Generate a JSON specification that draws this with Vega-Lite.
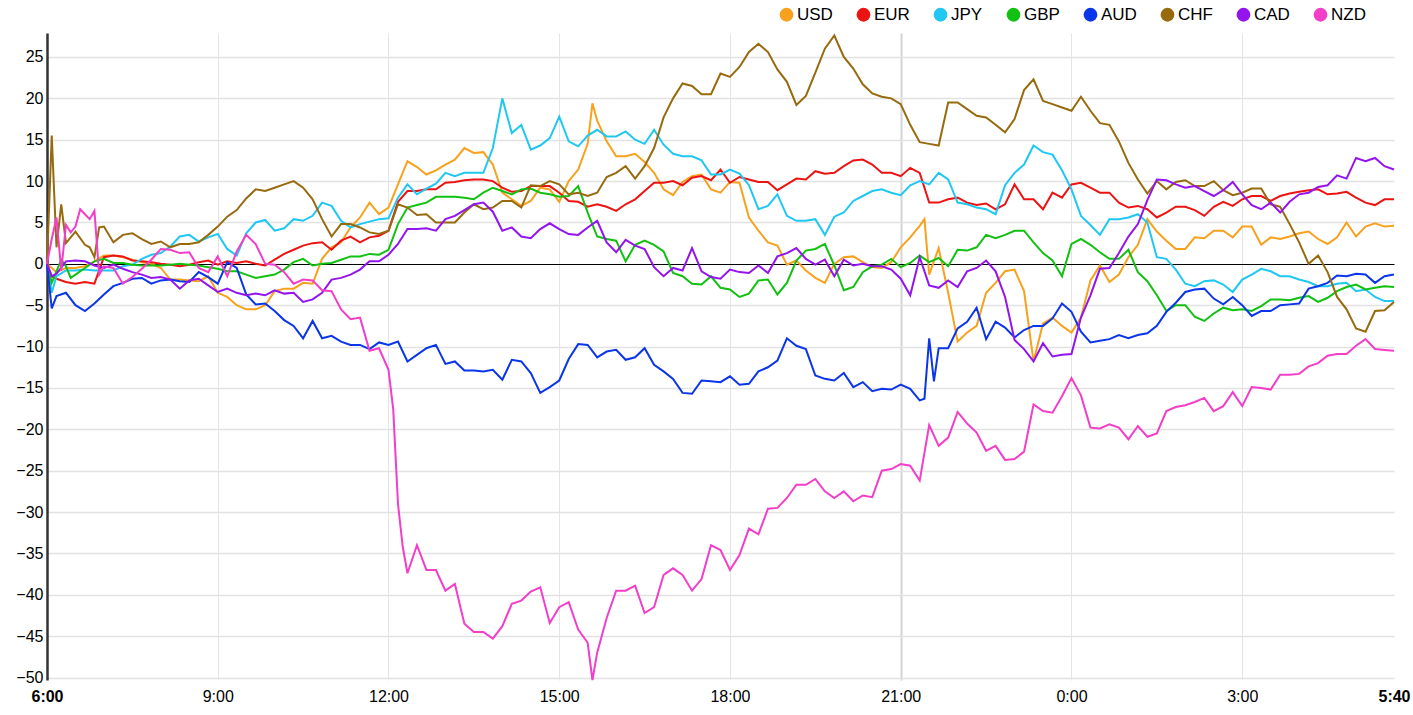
{
  "$schema": "https://vega.github.io/schema/vega-lite/v6.json",
  "width": 1347,
  "height": 647,
  "autosize": {"type": "none"},
  "padding": {"left": 47, "top": 33, "right": 19, "bottom": 35},
  "background": "white",
  "config": {"view": {"stroke": null}, "font": "Liberation Sans"},
  "data": {"values": [
    {"t":"2024-01-01T06:00","USD":0,"EUR":0,"JPY":0,"GBP":0,"AUD":0,"CHF":0,"CAD":0,"NZD":0},
    {"t":"2024-01-01T06:05","USD":-0.5,"EUR":-1.5,"JPY":-3.5,"GBP":-2.3,"AUD":-5.4,"CHF":15.5,"CAD":-1.5,"NZD":3.0},
    {"t":"2024-01-01T06:10","USD":-1.0,"EUR":-1.8,"JPY":-1.5,"GBP":-0.9,"AUD":-3.9,"CHF":2.0,"CAD":-1.2,"NZD":5.6},
    {"t":"2024-01-01T06:15","GBP":0.5,"CHF":7.2,"NZD":-0.8},
    {"t":"2024-01-01T06:20","USD":-0.5,"EUR":-2.2,"JPY":-0.8,"GBP":-0.3,"AUD":-3.5,"CHF":2.5,"CAD":0.3,"NZD":4.7},
    {"t":"2024-01-01T06:25","GBP":-1.7,"NZD":3.8},
    {"t":"2024-01-01T06:30","USD":-0.5,"EUR":-2.4,"JPY":-0.8,"GBP":-1.3,"AUD":-5.0,"CHF":3.9,"CAD":0.4,"NZD":4.5},
    {"t":"2024-01-01T06:35","NZD":6.6},
    {"t":"2024-01-01T06:40","USD":-0.3,"EUR":-2.2,"JPY":-0.7,"GBP":-0.5,"AUD":-5.7,"CHF":2.3,"CAD":0.3,"NZD":6.0},
    {"t":"2024-01-01T06:45","CHF":2.0,"NZD":5.4},
    {"t":"2024-01-01T06:50","USD":0.3,"EUR":-2.4,"JPY":-0.8,"GBP":0.3,"AUD":-4.8,"CHF":0.8,"CAD":-0.2,"NZD":6.4},
    {"t":"2024-01-01T06:55","CHF":4.4,"NZD":-1.3},
    {"t":"2024-01-01T07:00","USD":1.0,"EUR":0.8,"JPY":-0.8,"GBP":0.6,"AUD":-3.7,"CHF":4.5,"CAD":-0.5,"NZD":-0.3},
    {"t":"2024-01-01T07:10","USD":1.0,"EUR":1.0,"JPY":-0.8,"GBP":0.1,"AUD":-2.7,"CHF":2.6,"CAD":-0.1,"NZD":-0.5},
    {"t":"2024-01-01T07:20","USD":0.8,"EUR":0.9,"JPY":-0.3,"GBP":0.1,"AUD":-2.3,"CHF":3.5,"CAD":-0.6,"NZD":-2.4},
    {"t":"2024-01-01T07:30","USD":0.5,"EUR":0.4,"JPY":-0.1,"GBP":-0.1,"AUD":-1.8,"CHF":3.7,"CAD":-1.0,"NZD":-1.6},
    {"t":"2024-01-01T07:40","USD":0.2,"EUR":0.3,"JPY":0.6,"GBP":-0.2,"AUD":-1.7,"CHF":3.0,"CAD":-1.3,"NZD":-0.6},
    {"t":"2024-01-01T07:50","USD":0.0,"EUR":0.2,"JPY":1.1,"GBP":-0.2,"AUD":-2.4,"CHF":2.4,"CAD":-1.7,"NZD":0.5},
    {"t":"2024-01-01T08:00","USD":-0.5,"EUR":0.0,"JPY":1.3,"GBP":-0.2,"AUD":-2.0,"CHF":2.7,"CAD":-1.6,"NZD":1.8},
    {"t":"2024-01-01T08:10","USD":-1.9,"EUR":-0.1,"JPY":2.1,"GBP":-0.1,"AUD":-1.9,"CHF":2.0,"CAD":-1.9,"NZD":1.7},
    {"t":"2024-01-01T08:20","USD":-1.9,"EUR":-0.3,"JPY":3.3,"GBP":0.0,"AUD":-2.1,"CHF":2.4,"CAD":-3.0,"NZD":1.3},
    {"t":"2024-01-01T08:30","USD":-2.0,"EUR":-0.1,"JPY":3.5,"GBP":-0.1,"AUD":-2.2,"CHF":2.4,"CAD":-2.0,"NZD":1.4},
    {"t":"2024-01-01T08:40","USD":-2.1,"EUR":0.2,"JPY":2.7,"GBP":-0.2,"AUD":-1.0,"CHF":2.6,"CAD":-1.8,"NZD":-0.5},
    {"t":"2024-01-01T08:50","USD":-1.5,"EUR":0.4,"JPY":3.2,"GBP":-0.4,"AUD":-1.6,"CHF":3.5,"CAD":-2.6,"NZD":-1.0},
    {"t":"2024-01-01T09:00","USD":-3.5,"EUR":-0.1,"JPY":3.6,"GBP":-0.6,"AUD":-2.4,"CHF":4.5,"CAD":-3.4,"NZD":0.9},
    {"t":"2024-01-01T09:10","USD":-4.0,"EUR":0.3,"JPY":1.8,"GBP":-0.9,"AUD":0.2,"CHF":5.7,"CAD":-3.0,"NZD":-1.5},
    {"t":"2024-01-01T09:20","USD":-5.0,"EUR":0.1,"JPY":1.0,"GBP":-0.9,"AUD":-0.5,"CHF":6.5,"CAD":-3.5,"NZD":1.5},
    {"t":"2024-01-01T09:30","USD":-5.5,"EUR":0.3,"JPY":3.7,"GBP":-1.3,"AUD":-3.7,"CHF":7.9,"CAD":-3.8,"NZD":3.5},
    {"t":"2024-01-01T09:40","USD":-5.5,"EUR":0.0,"JPY":5.0,"GBP":-1.7,"AUD":-4.9,"CHF":9.0,"CAD":-3.6,"NZD":2.4},
    {"t":"2024-01-01T09:50","USD":-5.0,"EUR":-0.2,"JPY":5.3,"GBP":-1.5,"AUD":-4.8,"CHF":8.8,"CAD":-3.8,"NZD":0.0},
    {"t":"2024-01-01T10:00","USD":-3.3,"EUR":0.5,"JPY":4.0,"GBP":-1.3,"AUD":-5.7,"CHF":9.2,"CAD":-3.2,"NZD":-0.1},
    {"t":"2024-01-01T10:10","USD":-3.0,"EUR":1.2,"JPY":4.3,"GBP":-0.7,"AUD":-6.8,"CHF":9.6,"CAD":-3.6,"NZD":-1.0},
    {"t":"2024-01-01T10:20","USD":-3.0,"EUR":1.7,"JPY":5.4,"GBP":0.2,"AUD":-7.5,"CHF":10.0,"CAD":-3.5,"NZD":-2.4},
    {"t":"2024-01-01T10:30","USD":-2.3,"EUR":2.2,"JPY":5.2,"GBP":0.6,"AUD":-9.0,"CHF":9.2,"CAD":-4.6,"NZD":-1.9},
    {"t":"2024-01-01T10:40","USD":-2.4,"EUR":2.5,"JPY":5.8,"GBP":-0.2,"AUD":-6.9,"CHF":7.8,"CAD":-4.3,"NZD":-2.0},
    {"t":"2024-01-01T10:50","USD":0.6,"EUR":2.6,"JPY":7.4,"GBP":0.0,"AUD":-9.0,"CHF":5.4,"CAD":-3.5,"NZD":-3.2},
    {"t":"2024-01-01T11:00","USD":2.0,"EUR":1.7,"JPY":7.0,"GBP":0.1,"AUD":-8.7,"CHF":3.3,"CAD":-1.9,"NZD":-3.3},
    {"t":"2024-01-01T11:10","USD":2.6,"EUR":2.8,"JPY":5.2,"GBP":0.5,"AUD":-9.4,"CHF":4.8,"CAD":-1.7,"NZD":-5.5},
    {"t":"2024-01-01T11:20","USD":4.4,"EUR":3.3,"JPY":4.4,"GBP":0.9,"AUD":-9.8,"CHF":4.8,"CAD":-1.3,"NZD":-6.7},
    {"t":"2024-01-01T11:30","USD":5.6,"EUR":2.6,"JPY":4.8,"GBP":0.9,"AUD":-9.8,"CHF":4.4,"CAD":-0.7,"NZD":-6.5},
    {"t":"2024-01-01T11:40","USD":7.4,"EUR":3.2,"JPY":5.1,"GBP":1.2,"AUD":-10.3,"CHF":3.8,"CAD":0.3,"NZD":-10.5},
    {"t":"2024-01-01T11:50","USD":6.0,"EUR":3.4,"JPY":5.4,"GBP":1.1,"AUD":-9.5,"CHF":3.6,"CAD":0.3,"NZD":-10.2},
    {"t":"2024-01-01T12:00","USD":6.8,"EUR":4.0,"JPY":5.5,"GBP":1.7,"AUD":-9.8,"CHF":4.0,"CAD":1.1,"NZD":-12.8},
    {"t":"2024-01-01T12:05","NZD":-17.6},
    {"t":"2024-01-01T12:10","USD":9.6,"EUR":7.5,"JPY":8.0,"GBP":4.8,"AUD":-9.4,"CHF":7.2,"CAD":2.4,"NZD":-29.0},
    {"t":"2024-01-01T12:15","NZD":-34.2},
    {"t":"2024-01-01T12:20","USD":12.4,"EUR":8.8,"JPY":9.6,"GBP":6.8,"AUD":-11.8,"CHF":6.8,"CAD":4.2,"NZD":-37.4},
    {"t":"2024-01-01T12:30","USD":11.7,"EUR":8.8,"JPY":8.4,"GBP":7.1,"AUD":-11.0,"CHF":5.9,"CAD":4.2,"NZD":-34.0},
    {"t":"2024-01-01T12:40","USD":10.8,"EUR":9.0,"JPY":9.1,"GBP":7.4,"AUD":-10.2,"CHF":6.0,"CAD":4.3,"NZD":-37.0},
    {"t":"2024-01-01T12:50","USD":11.3,"EUR":9.0,"JPY":9.7,"GBP":8.1,"AUD":-9.8,"CHF":5.0,"CAD":4.0,"NZD":-37.0},
    {"t":"2024-01-01T13:00","USD":12.0,"EUR":9.8,"JPY":11.0,"GBP":8.1,"AUD":-12.1,"CHF":5.0,"CAD":5.4,"NZD":-39.5},
    {"t":"2024-01-01T13:10","USD":12.6,"EUR":9.9,"JPY":10.6,"GBP":8.1,"AUD":-11.8,"CHF":5.0,"CAD":5.8,"NZD":-38.7},
    {"t":"2024-01-01T13:20","USD":14.0,"EUR":10.1,"JPY":11.0,"GBP":8.0,"AUD":-12.9,"CHF":6.2,"CAD":6.5,"NZD":-43.5},
    {"t":"2024-01-01T13:30","USD":13.4,"EUR":10.2,"JPY":11.0,"GBP":7.8,"AUD":-12.9,"CHF":7.2,"CAD":7.2,"NZD":-44.5},
    {"t":"2024-01-01T13:40","USD":13.5,"EUR":10.2,"JPY":11.0,"GBP":8.6,"AUD":-13.0,"CHF":6.6,"CAD":7.4,"NZD":-44.5},
    {"t":"2024-01-01T13:50","USD":12.0,"EUR":10.0,"JPY":14.0,"GBP":9.2,"AUD":-12.8,"CHF":6.8,"CAD":6.3,"NZD":-45.3},
    {"t":"2024-01-01T14:00","USD":8.6,"EUR":9.2,"JPY":20.0,"GBP":8.8,"AUD":-14.0,"CHF":7.6,"CAD":4.0,"NZD":-43.8},
    {"t":"2024-01-01T14:10","USD":7.8,"EUR":8.7,"JPY":15.8,"GBP":8.4,"AUD":-11.6,"CHF":7.6,"CAD":4.4,"NZD":-41.1},
    {"t":"2024-01-01T14:20","USD":7.0,"EUR":8.8,"JPY":16.8,"GBP":9.0,"AUD":-11.8,"CHF":6.8,"CAD":3.3,"NZD":-40.7},
    {"t":"2024-01-01T14:30","USD":7.6,"EUR":9.4,"JPY":13.8,"GBP":9.1,"AUD":-13.2,"CHF":9.5,"CAD":3.1,"NZD":-39.6},
    {"t":"2024-01-01T14:40","USD":9.2,"EUR":9.4,"JPY":14.3,"GBP":8.6,"AUD":-15.6,"CHF":9.4,"CAD":4.2,"NZD":-39.1},
    {"t":"2024-01-01T14:50","USD":9.0,"EUR":9.4,"JPY":15.2,"GBP":8.4,"AUD":-14.9,"CHF":10.0,"CAD":4.9,"NZD":-43.4},
    {"t":"2024-01-01T15:00","USD":7.5,"EUR":8.6,"JPY":17.8,"GBP":8.1,"AUD":-14.1,"CHF":9.6,"CAD":4.2,"NZD":-41.5},
    {"t":"2024-01-01T15:10","USD":10.0,"EUR":7.6,"JPY":14.8,"GBP":8.2,"AUD":-11.5,"CHF":8.4,"CAD":3.6,"NZD":-40.9},
    {"t":"2024-01-01T15:20","USD":11.4,"EUR":7.5,"JPY":14.2,"GBP":9.4,"AUD":-9.7,"CHF":8.6,"CAD":3.5,"NZD":-44.2},
    {"t":"2024-01-01T15:30","USD":14.5,"EUR":6.9,"JPY":15.5,"GBP":6.2,"AUD":-9.8,"CHF":8.2,"CAD":4.4,"NZD":-45.8},
    {"t":"2024-01-01T15:35","USD":19.4,"NZD":-50.3},
    {"t":"2024-01-01T15:40","USD":17.3,"EUR":7.2,"JPY":16.2,"GBP":3.3,"AUD":-11.3,"CHF":8.6,"CAD":5.2,"NZD":-47.0},
    {"t":"2024-01-01T15:50","USD":14.8,"EUR":6.9,"JPY":15.4,"GBP":3.0,"AUD":-10.6,"CHF":10.5,"CAD":2.6,"NZD":-42.8},
    {"t":"2024-01-01T16:00","USD":13.0,"EUR":6.4,"JPY":15.4,"GBP":2.8,"AUD":-10.4,"CHF":11.0,"CAD":1.4,"NZD":-39.5},
    {"t":"2024-01-01T16:10","USD":13.0,"EUR":7.2,"JPY":16.0,"GBP":0.3,"AUD":-11.6,"CHF":11.8,"CAD":2.9,"NZD":-39.5},
    {"t":"2024-01-01T16:20","USD":13.3,"EUR":7.8,"JPY":15.0,"GBP":2.3,"AUD":-11.3,"CHF":10.3,"CAD":2.2,"NZD":-38.9},
    {"t":"2024-01-01T16:30","USD":12.3,"EUR":8.8,"JPY":14.5,"GBP":2.8,"AUD":-10.2,"CHF":11.8,"CAD":1.8,"NZD":-42.2},
    {"t":"2024-01-01T16:40","USD":11.0,"EUR":9.8,"JPY":16.2,"GBP":2.3,"AUD":-12.2,"CHF":14.0,"CAD":-0.4,"NZD":-41.5},
    {"t":"2024-01-01T16:50","USD":9.0,"EUR":9.8,"JPY":14.4,"GBP":1.5,"AUD":-13.0,"CHF":17.7,"CAD":-1.5,"NZD":-37.6},
    {"t":"2024-01-01T17:00","USD":8.3,"EUR":10.0,"JPY":13.3,"GBP":-1.1,"AUD":-13.9,"CHF":20.0,"CAD":-0.5,"NZD":-36.8},
    {"t":"2024-01-01T17:10","USD":9.9,"EUR":9.5,"JPY":13.0,"GBP":-1.5,"AUD":-15.6,"CHF":21.8,"CAD":-0.8,"NZD":-37.6},
    {"t":"2024-01-01T17:20","USD":10.6,"EUR":10.4,"JPY":13.0,"GBP":-2.4,"AUD":-15.7,"CHF":21.5,"CAD":1.9,"NZD":-39.5},
    {"t":"2024-01-01T17:30","USD":10.8,"EUR":10.6,"JPY":12.5,"GBP":-2.5,"AUD":-14.1,"CHF":20.5,"CAD":-0.9,"NZD":-38.1},
    {"t":"2024-01-01T17:40","USD":9.0,"EUR":10.1,"JPY":10.8,"GBP":-1.5,"AUD":-14.2,"CHF":20.5,"CAD":-1.6,"NZD":-34.0},
    {"t":"2024-01-01T17:50","USD":8.6,"EUR":11.4,"JPY":10.8,"GBP":-2.9,"AUD":-14.3,"CHF":23.0,"CAD":-1.8,"NZD":-34.6},
    {"t":"2024-01-01T18:00","USD":9.9,"EUR":9.8,"JPY":11.4,"GBP":-3.1,"AUD":-13.6,"CHF":22.6,"CAD":-0.7,"NZD":-37.0},
    {"t":"2024-01-01T18:10","USD":9.8,"EUR":10.5,"JPY":10.9,"GBP":-4.0,"AUD":-14.6,"CHF":23.8,"CAD":-1.0,"NZD":-35.2},
    {"t":"2024-01-01T18:20","USD":5.6,"EUR":10.2,"JPY":9.5,"GBP":-3.6,"AUD":-14.5,"CHF":25.6,"CAD":-1.1,"NZD":-32.0},
    {"t":"2024-01-01T18:30","USD":4.0,"EUR":9.9,"JPY":6.6,"GBP":-2.0,"AUD":-13.0,"CHF":26.6,"CAD":-0.2,"NZD":-32.7},
    {"t":"2024-01-01T18:40","USD":2.6,"EUR":9.9,"JPY":7.0,"GBP":-1.9,"AUD":-12.5,"CHF":25.6,"CAD":-1.1,"NZD":-29.6},
    {"t":"2024-01-01T18:50","USD":2.2,"EUR":8.9,"JPY":8.4,"GBP":-3.7,"AUD":-11.7,"CHF":23.5,"CAD":0.9,"NZD":-29.5},
    {"t":"2024-01-01T19:00","USD":-0.1,"EUR":9.6,"JPY":5.8,"GBP":-2.3,"AUD":-9.0,"CHF":22.0,"CAD":1.3,"NZD":-28.3},
    {"t":"2024-01-01T19:10","USD":0.4,"EUR":10.3,"JPY":5.2,"GBP":0.4,"AUD":-9.9,"CHF":19.2,"CAD":1.9,"NZD":-26.7},
    {"t":"2024-01-01T19:20","USD":-0.8,"EUR":10.2,"JPY":5.2,"GBP":1.6,"AUD":-10.3,"CHF":20.3,"CAD":0.6,"NZD":-26.7},
    {"t":"2024-01-01T19:30","USD":-1.7,"EUR":11.2,"JPY":5.4,"GBP":1.8,"AUD":-13.5,"CHF":23.1,"CAD":-0.1,"NZD":-26.0},
    {"t":"2024-01-01T19:40","USD":-2.3,"EUR":10.9,"JPY":3.5,"GBP":2.4,"AUD":-13.9,"CHF":26.0,"CAD":0.5,"NZD":-27.5},
    {"t":"2024-01-01T19:50","USD":0.0,"EUR":11.0,"JPY":5.7,"GBP":-0.2,"AUD":-14.1,"CHF":27.6,"CAD":-1.5,"NZD":-28.3},
    {"t":"2024-01-01T20:00","USD":0.8,"EUR":11.8,"JPY":6.2,"GBP":-3.2,"AUD":-13.2,"CHF":25.0,"CAD":0.5,"NZD":-27.5},
    {"t":"2024-01-01T20:10","USD":0.9,"EUR":12.5,"JPY":7.6,"GBP":-2.8,"AUD":-14.9,"CHF":23.6,"CAD":-0.2,"NZD":-28.7},
    {"t":"2024-01-01T20:20","USD":0.2,"EUR":12.6,"JPY":8.2,"GBP":-1.0,"AUD":-14.3,"CHF":21.7,"CAD":0.0,"NZD":-28.0},
    {"t":"2024-01-01T20:30","USD":-0.4,"EUR":12.0,"JPY":8.8,"GBP":-0.3,"AUD":-15.4,"CHF":20.6,"CAD":-0.3,"NZD":-28.2},
    {"t":"2024-01-01T20:40","USD":-0.5,"EUR":11.0,"JPY":9.0,"GBP":-0.1,"AUD":-15.1,"CHF":20.2,"CAD":-0.3,"NZD":-25.0},
    {"t":"2024-01-01T20:50","USD":0.2,"EUR":11.0,"JPY":8.6,"GBP":0.6,"AUD":-15.2,"CHF":20.0,"CAD":-0.7,"NZD":-24.8},
    {"t":"2024-01-01T21:00","USD":2.0,"EUR":10.6,"JPY":8.3,"GBP":-0.4,"AUD":-14.6,"CHF":19.3,"CAD":-1.8,"NZD":-24.2},
    {"t":"2024-01-01T21:10","USD":3.2,"EUR":11.6,"JPY":9.5,"GBP":0.1,"AUD":-15.1,"CHF":16.8,"CAD":-3.8,"NZD":-24.4},
    {"t":"2024-01-01T21:20","USD":4.6,"EUR":11.0,"JPY":10.0,"GBP":1.0,"AUD":-16.5,"CHF":14.7,"CAD":0.8,"NZD":-26.2},
    {"t":"2024-01-01T21:25","USD":5.4,"AUD":-16.3},
    {"t":"2024-01-01T21:30","USD":-1.3,"EUR":7.4,"JPY":9.6,"GBP":0.2,"AUD":-9.0,"CHF":14.5,"CAD":-2.6,"NZD":-19.5},
    {"t":"2024-01-01T21:35","AUD":-14.2},
    {"t":"2024-01-01T21:40","USD":1.9,"EUR":7.4,"JPY":11.0,"GBP":0.7,"AUD":-10.2,"CHF":14.3,"CAD":-2.9,"NZD":-22.0},
    {"t":"2024-01-01T21:50","USD":-3.5,"EUR":7.8,"JPY":10.2,"GBP":-0.3,"AUD":-10.2,"CHF":19.5,"CAD":-2.0,"NZD":-21.0},
    {"t":"2024-01-01T22:00","USD":-9.4,"EUR":8.0,"JPY":7.4,"GBP":1.7,"AUD":-7.8,"CHF":19.5,"CAD":-2.8,"NZD":-17.9},
    {"t":"2024-01-01T22:10","USD":-8.3,"EUR":7.4,"JPY":7.2,"GBP":1.6,"AUD":-7.0,"CHF":18.7,"CAD":-0.9,"NZD":-19.3},
    {"t":"2024-01-01T22:20","USD":-7.5,"EUR":7.1,"JPY":6.8,"GBP":2.0,"AUD":-5.3,"CHF":17.9,"CAD":-0.5,"NZD":-20.4},
    {"t":"2024-01-01T22:30","USD":-3.5,"EUR":7.3,"JPY":6.6,"GBP":3.5,"AUD":-9.1,"CHF":17.7,"CAD":0.4,"NZD":-22.6},
    {"t":"2024-01-01T22:40","USD":-2.3,"EUR":6.6,"JPY":6.0,"GBP":3.1,"AUD":-7.0,"CHF":16.8,"CAD":-0.9,"NZD":-22.0},
    {"t":"2024-01-01T22:50","USD":-0.9,"EUR":7.2,"JPY":9.5,"GBP":3.5,"AUD":-7.7,"CHF":15.9,"CAD":-4.0,"NZD":-23.7},
    {"t":"2024-01-01T23:00","USD":-0.7,"EUR":9.6,"JPY":11.0,"GBP":4.0,"AUD":-8.9,"CHF":17.5,"CAD":-9.2,"NZD":-23.6},
    {"t":"2024-01-01T23:10","USD":-3.3,"EUR":7.8,"JPY":12.0,"GBP":4.0,"AUD":-8.0,"CHF":21.0,"CAD":-10.3,"NZD":-22.7},
    {"t":"2024-01-01T23:20","USD":-11.8,"EUR":7.8,"JPY":14.3,"GBP":2.6,"AUD":-7.5,"CHF":22.3,"CAD":-11.8,"NZD":-17.0},
    {"t":"2024-01-01T23:30","USD":-7.2,"EUR":6.6,"JPY":13.5,"GBP":1.3,"AUD":-7.5,"CHF":19.7,"CAD":-9.6,"NZD":-17.8},
    {"t":"2024-01-01T23:40","USD":-6.5,"EUR":8.6,"JPY":13.2,"GBP":0.4,"AUD":-6.6,"CHF":19.3,"CAD":-11.2,"NZD":-18.0},
    {"t":"2024-01-01T23:50","USD":-7.5,"EUR":8.0,"JPY":11.3,"GBP":-1.5,"AUD":-4.8,"CHF":18.9,"CAD":-11.0,"NZD":-16.0},
    {"t":"2024-01-02T00:00","USD":-8.3,"EUR":9.6,"JPY":9.0,"GBP":2.4,"AUD":-5.8,"CHF":18.5,"CAD":-10.9,"NZD":-13.8},
    {"t":"2024-01-02T00:10","USD":-6.5,"EUR":9.8,"JPY":5.8,"GBP":3.0,"AUD":-8.2,"CHF":20.2,"CAD":-6.5,"NZD":-15.9},
    {"t":"2024-01-02T00:20","USD":-2.0,"EUR":9.2,"JPY":4.7,"GBP":2.3,"AUD":-9.5,"CHF":18.5,"CAD":-3.8,"NZD":-19.8},
    {"t":"2024-01-02T00:30","USD":-0.2,"EUR":8.6,"JPY":3.5,"GBP":1.4,"AUD":-9.3,"CHF":17.0,"CAD":-0.6,"NZD":-19.9},
    {"t":"2024-01-02T00:40","USD":-2.2,"EUR":8.6,"JPY":5.4,"GBP":0.6,"AUD":-9.1,"CHF":16.8,"CAD":-0.5,"NZD":-19.4},
    {"t":"2024-01-02T00:50","USD":-1.3,"EUR":7.4,"JPY":5.4,"GBP":0.6,"AUD":-8.6,"CHF":14.8,"CAD":1.3,"NZD":-19.8},
    {"t":"2024-01-02T01:00","USD":0.8,"EUR":6.8,"JPY":5.6,"GBP":1.7,"AUD":-9.0,"CHF":12.2,"CAD":3.3,"NZD":-21.2},
    {"t":"2024-01-02T01:10","USD":2.3,"EUR":7.0,"JPY":6.0,"GBP":-1.0,"AUD":-8.6,"CHF":10.2,"CAD":4.8,"NZD":-19.6},
    {"t":"2024-01-02T01:20","USD":5.4,"EUR":6.6,"JPY":5.0,"GBP":-2.1,"AUD":-8.4,"CHF":8.5,"CAD":7.7,"NZD":-20.9},
    {"t":"2024-01-02T01:30","USD":3.9,"EUR":5.6,"JPY":0.8,"GBP":-3.8,"AUD":-7.5,"CHF":10.0,"CAD":10.2,"NZD":-20.5},
    {"t":"2024-01-02T01:40","USD":2.8,"EUR":6.2,"JPY":0.6,"GBP":-5.7,"AUD":-5.8,"CHF":9.0,"CAD":10.1,"NZD":-17.8},
    {"t":"2024-01-02T01:50","USD":1.8,"EUR":6.9,"JPY":-0.7,"GBP":-5.0,"AUD":-4.7,"CHF":9.9,"CAD":9.6,"NZD":-17.3},
    {"t":"2024-01-02T02:00","USD":1.8,"EUR":6.9,"JPY":-2.4,"GBP":-5.0,"AUD":-3.4,"CHF":10.1,"CAD":9.2,"NZD":-17.1},
    {"t":"2024-01-02T02:10","USD":3.2,"EUR":6.5,"JPY":-2.7,"GBP":-6.4,"AUD":-3.1,"CHF":9.4,"CAD":9.4,"NZD":-16.7},
    {"t":"2024-01-02T02:20","USD":3.1,"EUR":5.8,"JPY":-2.1,"GBP":-6.9,"AUD":-3.0,"CHF":9.4,"CAD":8.8,"NZD":-16.2},
    {"t":"2024-01-02T02:30","USD":4.0,"EUR":6.9,"JPY":-2.0,"GBP":-6.0,"AUD":-4.2,"CHF":10.0,"CAD":8.2,"NZD":-17.8},
    {"t":"2024-01-02T02:40","USD":4.0,"EUR":7.5,"JPY":-2.5,"GBP":-5.3,"AUD":-4.9,"CHF":8.9,"CAD":8.9,"NZD":-17.2},
    {"t":"2024-01-02T02:50","USD":3.2,"EUR":7.0,"JPY":-3.4,"GBP":-5.6,"AUD":-4.0,"CHF":8.3,"CAD":9.9,"NZD":-15.5},
    {"t":"2024-01-02T03:00","USD":4.5,"EUR":7.8,"JPY":-1.9,"GBP":-5.5,"AUD":-5.0,"CHF":8.6,"CAD":8.4,"NZD":-17.2},
    {"t":"2024-01-02T03:10","USD":4.5,"EUR":8.2,"JPY":-1.3,"GBP":-5.7,"AUD":-6.3,"CHF":9.1,"CAD":7.1,"NZD":-14.9},
    {"t":"2024-01-02T03:20","USD":2.3,"EUR":8.2,"JPY":-0.6,"GBP":-5.1,"AUD":-5.7,"CHF":9.1,"CAD":6.6,"NZD":-15.0},
    {"t":"2024-01-02T03:30","USD":3.2,"EUR":7.6,"JPY":-0.9,"GBP":-4.3,"AUD":-5.7,"CHF":7.2,"CAD":7.4,"NZD":-15.2},
    {"t":"2024-01-02T03:40","USD":3.0,"EUR":8.2,"JPY":-1.5,"GBP":-4.3,"AUD":-5.0,"CHF":6.9,"CAD":6.2,"NZD":-13.4},
    {"t":"2024-01-02T03:50","USD":3.3,"EUR":8.5,"JPY":-1.5,"GBP":-4.4,"AUD":-4.9,"CHF":4.8,"CAD":7.5,"NZD":-13.4},
    {"t":"2024-01-02T04:00","USD":3.7,"EUR":8.7,"JPY":-1.9,"GBP":-4.1,"AUD":-4.8,"CHF":2.6,"CAD":8.4,"NZD":-13.3},
    {"t":"2024-01-02T04:10","USD":3.9,"EUR":8.9,"JPY":-2.2,"GBP":-3.9,"AUD":-3.0,"CHF":0.0,"CAD":8.6,"NZD":-12.4},
    {"t":"2024-01-02T04:20","USD":3.0,"EUR":9.0,"JPY":-2.7,"GBP":-4.6,"AUD":-2.7,"CHF":1.0,"CAD":9.3,"NZD":-12.0},
    {"t":"2024-01-02T04:30","USD":2.4,"EUR":8.4,"JPY":-2.7,"GBP":-4.1,"AUD":-2.3,"CHF":-1.0,"CAD":9.5,"NZD":-11.1},
    {"t":"2024-01-02T04:40","USD":3.2,"EUR":8.5,"JPY":-2.4,"GBP":-3.3,"AUD":-1.4,"CHF":-4.0,"CAD":10.7,"NZD":-10.9},
    {"t":"2024-01-02T04:50","USD":5.0,"EUR":8.7,"JPY":-2.3,"GBP":-2.8,"AUD":-1.5,"CHF":-5.5,"CAD":10.3,"NZD":-10.9},
    {"t":"2024-01-02T05:00","USD":3.3,"EUR":8.0,"JPY":-3.3,"GBP":-2.5,"AUD":-1.2,"CHF":-7.8,"CAD":12.8,"NZD":-9.9},
    {"t":"2024-01-02T05:10","USD":4.5,"EUR":7.4,"JPY":-3.1,"GBP":-3.1,"AUD":-1.3,"CHF":-8.2,"CAD":12.4,"NZD":-9.1},
    {"t":"2024-01-02T05:20","USD":4.9,"EUR":7.1,"JPY":-4.0,"GBP":-2.9,"AUD":-2.3,"CHF":-5.7,"CAD":12.8,"NZD":-10.3},
    {"t":"2024-01-02T05:30","USD":4.5,"EUR":7.8,"JPY":-4.5,"GBP":-2.7,"AUD":-1.5,"CHF":-5.6,"CAD":11.8,"NZD":-10.4},
    {"t":"2024-01-02T05:40","USD":4.6,"EUR":7.8,"JPY":-4.5,"GBP":-2.8,"AUD":-1.3,"CHF":-4.6,"CAD":11.4,"NZD":-10.5}
  ]},
  "transform": [
    {"fold": ["USD", "EUR", "JPY", "GBP", "AUD", "CHF", "CAD", "NZD"], "as": ["currency", "value"]},
    {"filter": "isValid(datum.value)"}
  ],
  "mark": {"type": "line", "strokeWidth": 2},
  "encoding": {
    "x": {
      "field": "t",
      "type": "temporal",
      "scale": {"nice": false},
      "axis": {
        "title": null,
        "format": "%-H:%M",
        "values": [
          {"year": 2024, "month": 1, "date": 1, "hours": 6},
          {"year": 2024, "month": 1, "date": 1, "hours": 9},
          {"year": 2024, "month": 1, "date": 1, "hours": 12},
          {"year": 2024, "month": 1, "date": 1, "hours": 15},
          {"year": 2024, "month": 1, "date": 1, "hours": 18},
          {"year": 2024, "month": 1, "date": 1, "hours": 21},
          {"year": 2024, "month": 1, "date": 2, "hours": 0},
          {"year": 2024, "month": 1, "date": 2, "hours": 3},
          {"year": 2024, "month": 1, "date": 2, "hours": 5, "minutes": 40}
        ],
        "domain": false,
        "ticks": false,
        "labelFlush": false,
        "labelOverlap": false,
        "labelPadding": 8,
        "labelFontSize": 16,
        "labelColor": "#000000",
        "labelFontWeight": {"condition": {"test": "(hours(datum.value) == 6 && minutes(datum.value) == 0) || (hours(datum.value) == 5 && minutes(datum.value) == 40)", "value": "bold"}, "value": "normal"},
        "grid": true,
        "gridColor": {"condition": {"test": "hours(datum.value) == 21", "value": "#d4d4d4"}, "value": "#e4e4e4"},
        "gridWidth": {"condition": {"test": "hours(datum.value) == 21", "value": 2}, "value": 1},
        "gridOpacity": {"condition": {"test": "(hours(datum.value) == 6 && minutes(datum.value) == 0) || (hours(datum.value) == 5 && minutes(datum.value) == 40)", "value": 0}, "value": 1}
      }
    },
    "y": {
      "field": "value",
      "type": "quantitative",
      "scale": {"domain": [-50.3, 27.9], "nice": false, "zero": false},
      "axis": {
        "title": null,
        "values": [-50, -45, -40, -35, -30, -25, -20, -15, -10, -5, 0, 5, 10, 15, 20, 25],
        "ticks": false,
        "labelPadding": 4,
        "labelFontSize": 16,
        "labelColor": "#000000",
        "domainColor": "#333333",
        "domainWidth": 2.5,
        "grid": true,
        "gridColor": {"condition": {"test": "datum.value === 0", "value": "#000000"}, "value": "#e2e2e2"},
        "gridWidth": {"condition": {"test": "datum.value === 0", "value": 1}, "value": 1.5}
      }
    },
    "color": {
      "field": "currency",
      "type": "nominal",
      "scale": {
        "domain": ["USD", "EUR", "JPY", "GBP", "AUD", "CHF", "CAD", "NZD"],
        "range": ["#f7a11d", "#ec1313", "#1fc7f2", "#12c012", "#0b35e8", "#976a0e", "#9414ee", "#f23ec8"]
      },
      "legend": {
        "title": null,
        "orient": "none",
        "legendX": 731,
        "legendY": -27,
        "direction": "horizontal",
        "padding": 0,
        "symbolType": "circle",
        "symbolSize": 190,
        "symbolStrokeWidth": 0,
        "labelFont": "Liberation Sans",
        "labelFontSize": 17,
        "labelColor": "#000000",
        "labelOffset": 2,
        "columnPadding": 22,
        "encode": {"symbols": {"update": {"fill": {"scale": "color", "field": "value"}, "fillOpacity": {"value": 1}, "opacity": {"value": 1}}}}
      }
    }
  }
}
